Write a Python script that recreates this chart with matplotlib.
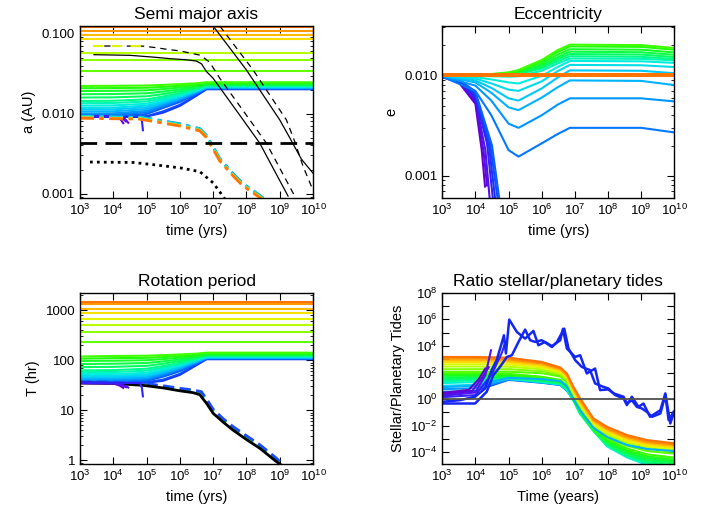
"""
Tidal evolution of close-in planets: semi major axis, eccentricity,
rotation period and the ratio of stellar to planetary tides, 1e3 - 1e10 yr.
"""

import numpy as np
import matplotlib.pyplot as plt
from matplotlib.colors import LinearSegmentedColormap
from matplotlib.ticker import FixedLocator, FixedFormatter, LogLocator, NullLocator, NullFormatter, FuncFormatter

plt.rcParams['font.family'] = ['Liberation Sans', 'DejaVu Sans']
plt.rcParams['axes.linewidth'] = 1.0

# Planet colours: innermost (purple) -> outermost (orange)
rainbow = LinearSegmentedColormap.from_list('planets', [
    (0.00, (0.40, 0.00, 0.80)),
    (0.08, (0.30, 0.08, 0.95)),
    (0.14, (0.10, 0.18, 1.00)),
    (0.25, (0.00, 0.45, 1.00)),
    (0.35, (0.00, 0.75, 1.00)),
    (0.45, (0.00, 0.95, 0.85)),
    (0.55, (0.00, 1.00, 0.40)),
    (0.68, (0.15, 1.00, 0.00)),
    (0.76, (0.45, 1.00, 0.00)),
    (0.84, (0.85, 1.00, 0.00)),
    (0.90, (1.00, 0.85, 0.00)),
    (1.00, (1.00, 0.45, 0.00)),
])
N_PLANETS = 28


def pcol(i):
    return rainbow(i / (N_PLANETS - 1))


# ---------------- Semi major axis (AU) ----------------
# outer planets that don't evolve
a_const_idx = [20, 21, 22, 24, 25, 26, 27]
a_const = [0.0342, 0.0475, 0.0582, 0.0853, 0.0955, 0.107, 0.122]

# planets falling into the star (log10 t, a)
fall_idx = [0, 1, 2, 3]
a_fall_logt = [[3, 4.0, 4.2, 4.3], [3, 4.1, 4.35, 4.45], [3, 4.05, 4.28, 4.38], [3, 4.8, 4.86, 4.89]]
a_fall = [[0.0093, 0.0092, 0.0087, 0.0076], [0.0093, 0.0092, 0.0086, 0.0077],
          [0.0093, 0.0092, 0.0087, 0.0080], [0.0092, 0.0091, 0.0082, 0.0062]]

# planets migrating outwards, one row per planet, sampled at mig_logt
mig_logt = [3, 4, 5, 5.5, 6, 6.5, 6.8, 10]
mig_idx = list(range(4, 20))
a_mig = [
    [0.0092, 0.0092, 0.0092, 0.0103, 0.0125, 0.0168, 0.0202, 0.0202],
    [0.0092, 0.0092, 0.0093, 0.0107, 0.0129, 0.0171, 0.0204, 0.0204],
    [0.0093, 0.0093, 0.0099, 0.0118, 0.0140, 0.0177, 0.0206, 0.0206],
    [0.0096, 0.0097, 0.0104, 0.0124, 0.0146, 0.0181, 0.0208, 0.0208],
    [0.0100, 0.0101, 0.0108, 0.0128, 0.0150, 0.0184, 0.0210, 0.0210],
    [0.0106, 0.0107, 0.0114, 0.0133, 0.0155, 0.0188, 0.0212, 0.0212],
    [0.0112, 0.0113, 0.0120, 0.0138, 0.0160, 0.0191, 0.0214, 0.0214],
    [0.0118, 0.0119, 0.0126, 0.0143, 0.0164, 0.0194, 0.0216, 0.0216],
    [0.0126, 0.0127, 0.0133, 0.0149, 0.0169, 0.0198, 0.0219, 0.0219],
    [0.0135, 0.0136, 0.0142, 0.0156, 0.0175, 0.0202, 0.0222, 0.0222],
    [0.0144, 0.0145, 0.0151, 0.0164, 0.0181, 0.0206, 0.0225, 0.0225],
    [0.0159, 0.0160, 0.0165, 0.0176, 0.0191, 0.0212, 0.0229, 0.0229],
    [0.0175, 0.0176, 0.0180, 0.0189, 0.0201, 0.0218, 0.0233, 0.0233],
    [0.0192, 0.0193, 0.0196, 0.0203, 0.0212, 0.0225, 0.0237, 0.0237],
    [0.0208, 0.0209, 0.0211, 0.0216, 0.0223, 0.0232, 0.0242, 0.0242],
    [0.0222, 0.0223, 0.0225, 0.0229, 0.0234, 0.0240, 0.0247, 0.0247],
]

# black reference curves
solid1_logt = [3.42, 4.5, 5.2, 5.7, 6.2, 6.5, 6.65, 6.8, 7.0, 7.9, 8.4, 9.25]
solid1_a = [0.0547, 0.0537, 0.051, 0.0488, 0.0472, 0.0455, 0.042, 0.0336, 0.0277, 0.00836, 0.00427, 0.00093]
dash1_logt = [3.39, 4.9, 5.3, 5.64, 6.0, 6.6, 6.75, 6.9, 7.2, 8.1, 8.6, 9.45]
dash1_a = [0.0703, 0.0700, 0.0668, 0.0636, 0.061, 0.054, 0.049, 0.0437, 0.0277, 0.00836, 0.00427, 0.00093]
solid2_logt = [7.0, 8.0, 9.0, 9.3, 9.65, 10.0]
solid2_a = [0.125, 0.0352, 0.00836, 0.0050, 0.0027, 0.0018]
dash2_logt = [7.2, 8.2, 9.2, 9.45, 9.7, 10.0]
dash2_a = [0.125, 0.0352, 0.00836, 0.0045, 0.0022, 0.0011]
r_star = 0.00427
dot_logt = [3.3, 4.6, 5.2, 6.0, 6.6, 7.0, 7.3, 7.35]
dot_a = [0.00248, 0.00245, 0.0023, 0.0021, 0.00188, 0.00136, 0.00092, 0.00085]
corot_logt = [3.0, 4.8, 6.0, 6.6, 6.8, 7.2, 7.6, 7.9, 8.4, 8.5]
corot_a = [0.00904, 0.0088, 0.00722, 0.00627, 0.00517, 0.00264, 0.00171, 0.00128, 0.00092, 0.00085]
corot_idx = [7, 13, 10, 24, 27]
corot_scale = [1.035, 1.02, 1.0, 0.985, 0.97]

# ---------------- Eccentricity ----------------
e_fall_idx = [0, 1, 2, 3, 4, 5, 6]
e_fall_logt = [[3, 3.5, 4.0, 4.19, 4.29], [3, 3.5, 4.0, 4.25, 4.35], [3, 3.5, 4.0, 4.3, 4.45],
               [3, 3.5, 4.0, 4.35, 4.55], [3, 3.5, 4.0, 4.4, 4.62], [3, 3.5, 4.0, 4.45, 4.7],
               [3, 3.5, 4.0, 4.5, 4.75]]
e_fall = [[0.0096, 0.0085, 0.0052, 0.0018, 0.00078], [0.0096, 0.0086, 0.0055, 0.0017, 0.0008],
          [0.0096, 0.0087, 0.0058, 0.0018, 0.0005], [0.0097, 0.0088, 0.0061, 0.0021, 0.0005],
          [0.0097, 0.0089, 0.0063, 0.0021, 0.0005], [0.0097, 0.0090, 0.0066, 0.0020, 0.0005],
          [0.0098, 0.0091, 0.0069, 0.0020, 0.0005]]
e_logt = [3, 4, 4.48, 5, 5.3, 6, 6.48, 6.85, 9, 10]
e_idx = list(range(7, 20))
e_rows = [
    [0.0097, 0.0070, 0.0040, 0.0018, 0.00155, 0.0021, 0.0026, 0.0030, 0.0030, 0.0027],
    [0.0098, 0.0079, 0.0056, 0.0033, 0.0030, 0.0040, 0.0051, 0.0059, 0.0059, 0.0055],
    [0.0099, 0.0085, 0.0067, 0.0048, 0.0045, 0.0060, 0.0076, 0.0089, 0.0088, 0.0080],
    [0.0099, 0.0089, 0.0075, 0.0059, 0.0056, 0.0074, 0.0095, 0.0112, 0.0111, 0.0105],
    [0.0100, 0.0093, 0.0083, 0.0072, 0.0070, 0.0087, 0.0110, 0.0127, 0.0126, 0.0121],
    [0.0100, 0.0096, 0.0091, 0.0085, 0.0083, 0.0099, 0.0121, 0.0139, 0.0138, 0.0133],
    [0.0100, 0.0099, 0.0098, 0.0097, 0.0098, 0.0111, 0.0131, 0.0147, 0.0146, 0.0141],
    [0.0100, 0.0100, 0.0100, 0.0101, 0.0103, 0.0117, 0.0138, 0.0155, 0.0153, 0.0145],
    [0.0100, 0.0100, 0.0101, 0.0102, 0.0105, 0.0121, 0.0145, 0.0163, 0.0161, 0.0152],
    [0.0100, 0.0100, 0.0101, 0.0104, 0.0107, 0.0126, 0.0152, 0.0172, 0.0170, 0.0160],
    [0.0100, 0.0100, 0.0102, 0.0105, 0.0109, 0.0131, 0.0161, 0.0182, 0.0180, 0.0169],
    [0.0100, 0.0101, 0.0102, 0.0106, 0.0111, 0.0137, 0.0171, 0.0194, 0.0192, 0.0180],
    [0.0100, 0.0101, 0.0103, 0.0107, 0.0113, 0.0142, 0.0178, 0.0202, 0.0200, 0.0187],
]
e_const_idx = list(range(20, 28))
e_const = 0.010

# ---------------- Rotation period (hr) ----------------
P_const_idx = list(range(20, 28))
P_const = [229, 363, 508, 670, 871, 1062, 1318, 1486]
P_fall = [[35, 34.5, 31, 28], [35.5, 35, 31, 28.5], [35, 34.5, 31.5, 29], [36, 35, 28, 19]]
# same planets and times as a_mig
P_mig = [
    [35.5, 35.5, 35.5, 39.0, 51.0, 80.0, 105.0, 105.0],
    [36.0, 36.0, 36.5, 41.0, 53.6, 81.8, 106.6, 106.6],
    [37.0, 37.0, 39.0, 47.0, 60.6, 86.1, 108.2, 108.2],
    [38.5, 38.7, 41.0, 50.5, 64.5, 89.1, 109.7, 109.7],
    [40.5, 40.7, 43.0, 53.0, 67.2, 91.3, 111.3, 111.3],
    [43.0, 43.3, 46.0, 56.1, 70.6, 94.3, 113.0, 113.0],
    [46.0, 46.3, 49.0, 59.3, 74.0, 96.6, 114.5, 114.5],
    [49.0, 49.4, 52.0, 62.6, 76.8, 98.8, 116.1, 116.1],
    [53.0, 53.4, 56.1, 66.5, 80.4, 101.9, 118.6, 118.6],
    [58.0, 58.3, 61.9, 71.3, 84.7, 105.0, 121.0, 121.0],
    [63.0, 63.5, 67.9, 76.8, 89.1, 108.2, 123.5, 123.5],
    [73.0, 74.0, 77.5, 85.4, 96.6, 113.0, 126.8, 126.8],
    [84.0, 85.4, 88.3, 95.1, 104.2, 117.7, 130.1, 130.1],
    [97.0, 98.1, 100.4, 105.8, 113.0, 123.5, 133.5, 133.5],
    [108.0, 110.5, 112.1, 116.1, 121.8, 129.3, 137.7, 137.7],
    [119.0, 121.8, 123.5, 126.8, 131.0, 136.0, 142.0, 142.0],
]
star_logt = [3.0, 4.0, 4.9, 5.5, 6.0, 6.4, 6.6, 6.65, 6.8, 7.0, 7.3, 7.6, 8.0, 8.4, 8.9, 9.05]
star_P = [35, 34.5, 31.5, 28, 24.5, 22.5, 20.5, 18.5, 13.8, 8.7, 5.8, 4.0, 2.6, 1.74, 0.94, 0.8]
star2_logt = [3.0, 4.0, 5.0, 5.5, 6.0, 6.4, 6.65, 6.7, 6.85, 7.0, 7.3, 7.6, 8.0, 8.4, 8.9, 9.1]
star2_P = [37, 36.5, 34, 31, 27.5, 25.5, 23.5, 21, 15, 10.5, 6.8, 4.7, 3.1, 2.05, 1.1, 0.82]
star3_P = [36, 35.5, 33, 30, 26.5, 24.5, 22.5, 20, 14.2, 10, 6.4, 4.4, 2.9, 1.95, 1.04, 0.8]

# ---------------- Stellar / planetary tides (log10 ratio) ----------------
ratio_logt = [3, 4, 5, 6, 6.56, 6.76, 6.96, 7.16, 7.56, 7.97, 8.57, 9.18, 10]
ratio_frac = [0.22, 0.30, 0.40, 0.46, 0.50, 0.54, 0.58, 0.62, 0.66, 0.70,
              0.73, 0.77, 0.81, 0.85, 0.89, 0.93, 0.97, 1.00, 0.33]
ratio_rows = [
    [0.55, 0.62, 1.45, 1.23, 1.06, 0.64, -0.05, -0.93, -2.30, -3.20, -3.98, -4.45, -4.70],
    [0.75, 0.82, 1.48, 1.25, 1.08, 0.66, -0.05, -0.93, -2.30, -3.20, -3.98, -4.45, -4.70],
    [1.00, 1.08, 1.52, 1.27, 1.10, 0.68, -0.05, -0.93, -2.30, -3.20, -3.98, -4.45, -4.70],
    [1.20, 1.28, 1.55, 1.30, 1.13, 0.70, -0.12, -1.12, -2.38, -3.55, -4.38, -4.95, -5.20],
    [1.35, 1.40, 1.58, 1.33, 1.16, 0.75, -0.10, -1.10, -2.38, -3.48, -4.30, -4.85, -5.10],
    [1.50, 1.52, 1.62, 1.38, 1.20, 0.80, -0.09, -1.05, -2.36, -3.40, -4.22, -4.72, -5.00],
    [1.62, 1.63, 1.68, 1.45, 1.26, 0.86, -0.06, -0.97, -2.33, -3.30, -4.10, -4.60, -4.85],
    [1.75, 1.75, 1.75, 1.52, 1.32, 0.92, -0.03, -0.90, -2.30, -3.20, -3.98, -4.45, -4.70],
    [1.85, 1.85, 1.82, 1.60, 1.38, 0.98, 0.02, -0.84, -2.25, -3.10, -3.85, -4.30, -4.55],
    [1.95, 1.95, 1.90, 1.68, 1.45, 1.05, 0.08, -0.78, -2.20, -3.00, -3.70, -4.15, -4.40],
    [2.05, 2.05, 2.06, 1.95, 1.70, 1.28, 0.22, -0.65, -2.12, -2.88, -3.50, -3.90, -4.10],
    [2.25, 2.25, 2.25, 2.10, 1.82, 1.38, 0.32, -0.55, -2.05, -2.75, -3.37, -3.76, -3.95],
    [2.45, 2.45, 2.44, 2.25, 1.93, 1.48, 0.42, -0.45, -1.95, -2.63, -3.25, -3.64, -3.83],
    [2.62, 2.62, 2.60, 2.38, 2.03, 1.58, 0.52, -0.35, -1.85, -2.52, -3.14, -3.53, -3.72],
    [2.78, 2.78, 2.75, 2.50, 2.13, 1.68, 0.62, -0.25, -1.75, -2.40, -3.03, -3.42, -3.62],
    [2.92, 2.92, 2.88, 2.60, 2.22, 1.76, 0.72, -0.15, -1.65, -2.30, -2.93, -3.31, -3.52],
    [3.05, 3.05, 3.00, 2.70, 2.30, 1.85, 0.82, -0.05, -1.55, -2.20, -2.82, -3.20, -3.42],
    [3.17, 3.17, 3.12, 2.80, 2.38, 1.93, 0.92, 0.05, -1.45, -2.08, -2.70, -3.08, -3.32],
    [0.90, 1.00, 1.60, 1.50, 1.35, 0.95, 0.00, -0.85, -2.15, -2.85, -3.45, -3.75, -3.90],
]
r_fall_logt = [[3, 3.8, 4.1, 4.3], [3, 3.9, 4.2, 4.4], [3, 4.0, 4.3, 4.47], [3, 4.0, 4.5, 4.8, 4.89]]
r_fall = [[0.45, 0.7, 1.5, 2.3], [0.35, 0.6, 1.6, 2.4], [0.25, 0.5, 1.8, 3.67], [0.15, 0.3, 1.9, 3.5, 4.2]]
noisy1_logt = [3.0, 3.53, 3.99, 4.29, 4.49, 4.64, 4.79, 4.86, 4.92, 5.02, 5.25, 5.50, 5.75, 5.90,
               6.10, 6.31, 6.56, 6.64, 6.76, 7.01, 7.16, 7.36, 7.61, 7.76, 8.01, 8.17, 8.47, 8.57,
               8.72, 8.87, 9.02, 9.17, 9.33, 9.58, 9.73, 9.83, 9.98]
noisy1 = [-0.20, -0.08, 0.18, 0.80, 2.18, 2.93, 4.18, 4.80, 3.43, 5.98, 5.05, 4.55, 5.13, 4.05,
          4.30, 3.98, 4.43, 5.28, 3.80, 3.17, 3.30, 1.93, 2.30, 0.68, 0.73, 0.43, 0.18, -0.33,
          -0.08, -0.58, -0.70, -0.95, -1.33, -1.08, 0.30, -1.58, -0.95]
noisy2_logt = [3.0, 3.99, 4.34, 4.54, 4.74, 4.95, 5.10, 5.30, 5.50, 5.65, 5.80, 6.00, 6.31, 6.46,
               6.68, 6.81, 7.01, 7.21, 7.46, 7.61, 7.86, 8.01, 8.22, 8.47, 8.57, 8.72, 8.92, 9.07,
               9.27, 9.58, 9.73, 9.88, 9.98]
noisy2 = [-0.33, -0.33, 0.55, 1.80, 2.42, 3.17, 3.30, 4.30, 5.23, 4.43, 4.30, 4.43, 3.92, 4.30,
          5.30, 3.80, 2.93, 2.42, 2.18, 1.18, 0.92, 0.80, 0.30, 0.05, -0.45, 0.18, -0.58, -0.33,
          -1.33, -0.83, 0.43, -1.83, -1.08]


def yr(logt):
    return 10.0 ** np.asarray(logt, dtype=float)


def setup(ax, title, xlabel, ylabel):
    ax.set_xscale('log')
    ax.set_yscale('log')
    ax.set_xlim(1e3, 1e10)
    ax.set_title(title, fontsize=12.5, pad=5)
    ax.set_xlabel(xlabel, fontsize=10.5)
    ax.set_ylabel(ylabel, fontsize=10.5)
    ax.xaxis.set_major_locator(LogLocator(base=10, numticks=20))
    ax.xaxis.set_minor_locator(NullLocator())
    ax.tick_params(which='both', direction='in', top=True, right=True, labelsize=9.5)
    ax.tick_params(which='major', length=5)
    ax.tick_params(which='minor', length=2.5)


fig = plt.figure(figsize=(7.13, 5.19), dpi=100)
ax1 = fig.add_axes([0.1122, 0.6185, 0.3268, 0.3314])
ax2 = fig.add_axes([0.6203, 0.6185, 0.3254, 0.3314])
ax3 = fig.add_axes([0.1122, 0.1054, 0.3268, 0.3306])
ax4 = fig.add_axes([0.6203, 0.1054, 0.3254, 0.3306])
lw = 1.5

# ---- Semi major axis ----
setup(ax1, 'Semi major axis', 'time (yrs)', 'a (AU)')
for row, i in zip(a_mig, mig_idx):
    ax1.plot(yr(mig_logt), row, color=pcol(i), lw=lw)
for k, i in enumerate(fall_idx):
    ax1.plot(yr(a_fall_logt[k]), a_fall[k], color=pcol(i), lw=lw)
for a, i in zip(a_const, a_const_idx):
    ax1.axhline(a, color=pcol(i), lw=lw)
for s, i in zip(corot_scale, corot_idx):
    ax1.plot(yr(corot_logt), np.array(corot_a) * s, color=pcol(i), lw=2, ls=(0, (5, 2, 1.5, 2)))
ax1.axhline(r_star, color='black', lw=2, ls=(0, (6, 3)))
ax1.plot(yr(dot_logt), dot_a, color='black', lw=2, ls=(0, (1, 1.5)))
ax1.plot(yr(solid1_logt), solid1_a, color='black', lw=0.9)
ax1.plot(yr(solid2_logt), solid2_a, color='black', lw=0.9)
ax1.plot(yr(dash1_logt), dash1_a, color='black', lw=0.9, ls=(0, (5, 4)))
ax1.plot(yr(dash1_logt[:2]), dash1_a[:2], color=pcol(23), lw=1.5, ls=(0, (5, 4)))
ax1.plot(yr(dash2_logt), dash2_a, color='black', lw=0.9, ls=(0, (5, 4)))
ax1.set_ylim(0.00088, 0.125)
ax1.yaxis.set_major_locator(FixedLocator([0.001, 0.01, 0.1]))
ax1.yaxis.set_major_formatter(FixedFormatter(['0.001', '0.010', '0.100']))
ax1.yaxis.set_minor_locator(LogLocator(base=10, subs=np.arange(2, 10), numticks=20))
ax1.yaxis.set_minor_formatter(NullFormatter())

# ---- Eccentricity ----
setup(ax2, 'Eccentricity', 'time (yrs)', 'e')
for k, i in enumerate(e_fall_idx):
    ax2.plot(yr(e_fall_logt[k]), e_fall[k], color=pcol(i), lw=lw)
for k, i in enumerate(e_idx):
    ax2.plot(yr(e_logt), e_rows[k], color=pcol(i), lw=lw)
for i in e_const_idx:
    ax2.axhline(e_const, color=pcol(i), lw=2.8)
ax2.set_ylim(0.0006, 0.031)
ax2.yaxis.set_major_locator(FixedLocator([0.001, 0.01]))
ax2.yaxis.set_major_formatter(FixedFormatter(['0.001', '0.010']))
ax2.yaxis.set_minor_locator(LogLocator(base=10, subs=np.arange(2, 10), numticks=20))
ax2.yaxis.set_minor_formatter(NullFormatter())

# ---- Rotation period ----
setup(ax3, 'Rotation period', 'time (yrs)', 'T (hr)')
for row, i in zip(P_mig, mig_idx):
    ax3.plot(yr(mig_logt), row, color=pcol(i), lw=lw)
for P, i in zip(P_const, P_const_idx):
    ax3.axhline(P, color=pcol(i), lw=lw)
ax3.plot(yr(star2_logt), star3_P, color=(0.1, 0.85, 0.3), lw=2, ls=(0, (4, 2)))
ax3.plot(yr(star2_logt), star2_P, color=(0.1, 0.3, 1.0), lw=2, ls=(0, (4, 2)))
ax3.plot(yr(star_logt), star_P, color='black', lw=2)
for k, i in enumerate(fall_idx):
    ax3.plot(yr(a_fall_logt[k]), P_fall[k], color=pcol(i), lw=lw)
ax3.set_ylim(0.83, 2250)
ax3.yaxis.set_major_locator(FixedLocator([1, 10, 100, 1000]))
ax3.yaxis.set_major_formatter(FixedFormatter(['1', '10', '100', '1000']))
ax3.yaxis.set_minor_locator(LogLocator(base=10, subs=np.arange(2, 10), numticks=20))
ax3.yaxis.set_minor_formatter(NullFormatter())

# ---- Ratio stellar/planetary tides ----
setup(ax4, 'Ratio stellar/planetary tides', 'Time (years)', 'Stellar/Planetary Tides')
for f, row in zip(ratio_frac, ratio_rows):
    ax4.plot(yr(ratio_logt), yr(row), color=rainbow(f), lw=lw)
for k, i in enumerate(fall_idx):
    ax4.plot(yr(r_fall_logt[k]), yr(r_fall[k]), color=pcol(i), lw=lw)
ax4.plot(yr(noisy1_logt), yr(noisy1), color=(0.08, 0.15, 0.95), lw=1.8)
ax4.plot(yr(noisy2_logt), yr(noisy2), color=(0.08, 0.15, 0.95), lw=1.8)
ax4.axhline(1.0, color='#505050', lw=1.3)
ax4.set_ylim(10 ** -4.9, 1e8)
ax4.yaxis.set_major_locator(FixedLocator(10.0 ** np.arange(-4, 9)))
ax4.yaxis.set_major_formatter(FuncFormatter(
    lambda v, pos: r'$\mathdefault{10^{%d}}$' % round(np.log10(v)) if round(np.log10(v)) % 2 == 0 else ''))
ax4.yaxis.set_minor_locator(NullLocator())

fig.savefig('out.png', dpi=100)
